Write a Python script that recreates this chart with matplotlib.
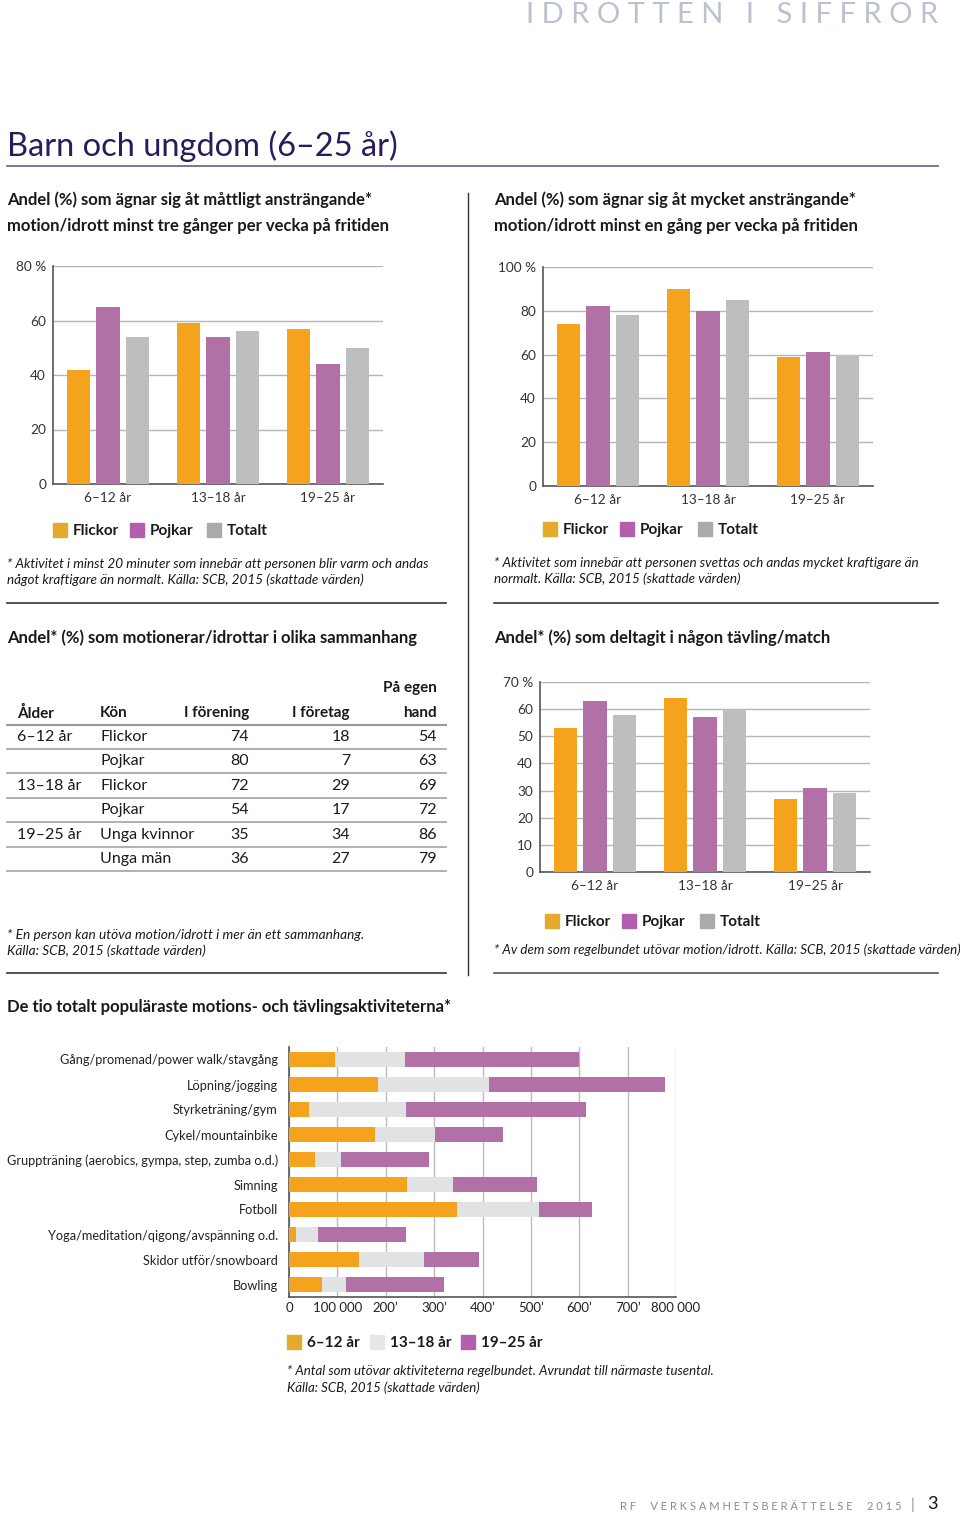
import matplotlib
matplotlib.use('Agg')
import matplotlib.pyplot as plt
import numpy as np
from matplotlib.lines import Line2D
from matplotlib.patches import Rectangle

W, H = 960, 1515
FONT = ['Lato', 'DejaVu Sans']
plt.rcParams['font.family'] = FONT

ORANGE = '#F5A31C'
PURPLE = '#B170A6'
GRAY = '#BDBEC0'
LIGHT = '#E1E2E4'
DARK = '#1A1A1A'
TITLE_COL = '#2B1B5C'

# data
age_groups = ['6–12 år', '13–18 år', '19–25 år']

moderate_flickor = [42, 59, 57]
moderate_pojkar = [65, 54, 44]
moderate_totalt = [54, 56, 50]

vigorous_flickor = [74, 90, 59]
vigorous_pojkar = [82, 80, 61]
vigorous_totalt = [78, 85, 60]

comp_flickor = [53, 64, 27]
comp_pojkar = [63, 57, 31]
comp_totalt = [58, 60, 29]

table_header = ['Ålder', 'Kön', 'I förening', 'I företag', 'hand']
table_age = ['6–12 år', '', '13–18 år', '', '19–25 år', '']
table_sex = ['Flickor', 'Pojkar', 'Flickor', 'Pojkar', 'Unga kvinnor', 'Unga män']
in_forening = [74, 80, 72, 54, 35, 36]
in_foretag = [18, 7, 29, 17, 34, 27]
on_own = [54, 63, 69, 72, 86, 79]

activities = ['Gång/promenad/power walk/stavgång', 'Löpning/jogging', 'Styrketräning/gym',
              'Cykel/mountainbike', 'Gruppträning (aerobics, gympa, step, zumba o.d.)',
              'Simning', 'Fotboll', 'Yoga/meditation/qigong/avspänning o.d.',
              'Skidor utför/snowboard', 'Bowling']
act_6_12 = [95000, 183000, 42000, 178000, 53000, 244000, 347000, 14000, 144000, 69000]
act_13_18 = [144000, 231000, 199000, 124000, 55000, 96000, 170000, 45000, 136000, 49000]
act_19_25 = [361000, 364000, 373000, 140000, 182000, 172000, 109000, 182000, 112000, 202000]
act_ticks = [0, 100000, 200000, 300000, 400000, 500000, 600000, 700000, 800000]
act_tick_labels = ['0', '100 000', '200’', '300’', '400’', '500’', '600’', '700’', '800 000']

fig = plt.figure(figsize=(W / 100, H / 100), dpi=100)


def ax_px(x0, y0, x1, y1):
    return fig.add_axes([x0 / W, 1 - y1 / H, (x1 - x0) / W, (y1 - y0) / H])


def ftext(x, y, s, **kw):
    kw.setdefault('va', 'center')
    kw.setdefault('color', DARK)
    fig.text(x / W, 1 - y / H, s, **kw)


def hline(x0, x1, y, color='#333333', lw=1.2):
    fig.add_artist(Line2D([x0 / W, x1 / W], [1 - y / H] * 2, color=color, lw=lw))


def vline(x, y0, y1, color='#333333', lw=1.2):
    fig.add_artist(Line2D([x / W] * 2, [1 - y0 / H, 1 - y1 / H], color=color, lw=lw))


def square(x, y, color, size=14):
    fig.add_artist(Rectangle((x / W, 1 - (y + size / 2) / H), size / W, size / H,
                             color=color, transform=fig.transFigure))


def legend(x_list, y, labels, colors):
    for x, lab, col in zip(x_list, labels, colors):
        square(x, y, col)
        ftext(x + 20, y + 1, lab, fontsize=11, fontweight='bold')


def group_bars(ax, f, p, t, ymax, step):
    x = np.arange(len(age_groups))
    for k, (vals, col) in enumerate([(f, ORANGE), (p, PURPLE), (t, GRAY)]):
        ax.bar(x + (k - 1) * 0.265, vals, width=0.21, color=col, zorder=3)
    ax.set_xlim(-0.5, 2.5)
    ax.set_ylim(0, ymax)
    ticks = list(range(0, ymax + 1, step))
    labels = [str(v) for v in ticks]
    labels[-1] += ' %'
    ax.set_yticks(ticks, labels)
    ax.set_xticks(x, age_groups)
    ax.yaxis.grid(True, color='#B5B5B5', lw=1)
    ax.set_axisbelow(True)
    for s in ['top', 'right']:
        ax.spines[s].set_visible(False)
    for s in ['left', 'bottom']:
        ax.spines[s].set_color('#555555')
        ax.spines[s].set_linewidth(1.2)
    ax.tick_params(length=0, labelsize=9.8, colors='#333333')
    ax.tick_params(axis='y', pad=5)
    ax.tick_params(axis='x', pad=6)


# header
header = ' '.join('IDROTTEN') + '   I   ' + ' '.join('SIFFROR')
ftext(938, 23, header, fontsize=21, color='#BCC1D0', ha='right', va='baseline')
ftext(7, 146, 'Barn och ungdom (6–25 år)', fontsize=23.5, color=TITLE_COL)
hline(7, 938, 166, color='#6F6A92', lw=1.3)

# separators
vline(468, 193, 975, color='#333333', lw=1.0)

# panel 1
ftext(7, 200, 'Andel (%) som ägnar sig åt måttligt ansträngande*', fontsize=12, fontweight='bold')
ftext(7, 226, 'motion/idrott minst tre gånger per vecka på fritiden', fontsize=12, fontweight='bold')
ax1 = ax_px(53, 266, 383, 484)
group_bars(ax1, moderate_flickor, moderate_pojkar, moderate_totalt, 80, 20)
legend([53, 130, 207], 530, ['Flickor', 'Pojkar', 'Totalt'], ['#E3AA2E', '#B25FAE', '#AAAAAA'])
ftext(7, 564, '* Aktivitet i minst 20 minuter som innebär att personen blir varm och andas',
      fontsize=9.7, style='italic')
ftext(7, 580, 'något kraftigare än normalt. Källa: SCB, 2015 (skattade värden)',
      fontsize=9.7, style='italic')
hline(7, 446, 603)

# panel 2
ftext(494, 200, 'Andel (%) som ägnar sig åt mycket ansträngande*', fontsize=12, fontweight='bold')
ftext(494, 226, 'motion/idrott minst en gång per vecka på fritiden', fontsize=12, fontweight='bold')
ax2 = ax_px(543, 267, 873, 486)
group_bars(ax2, vigorous_flickor, vigorous_pojkar, vigorous_totalt, 100, 20)
legend([543, 620, 698], 529, ['Flickor', 'Pojkar', 'Totalt'], ['#E3AA2E', '#B25FAE', '#AAAAAA'])
ftext(494, 563, '* Aktivitet som innebär att personen svettas och andas mycket kraftigare än',
      fontsize=9.7, style='italic')
ftext(494, 579, 'normalt. Källa: SCB, 2015 (skattade värden)', fontsize=9.7, style='italic')
hline(494, 938, 603)

# panel 3: table
ftext(7, 638, 'Andel* (%) som motionerar/idrottar i olika sammanhang', fontsize=12, fontweight='bold')
ftext(437, 688, 'På egen', fontsize=11, fontweight='bold', ha='right')
col_x = [17, 100, 249, 350, 437]
col_ha = ['left', 'left', 'right', 'right', 'right']
for x, ha, lab in zip(col_x, col_ha, table_header):
    ftext(x, 713, lab, fontsize=11, fontweight='bold', ha=ha)
hline(7, 446, 725, color='#999999', lw=1.5)
row_y0, row_dy = 737, 24.4
for i in range(len(table_sex)):
    y = row_y0 + i * row_dy
    cells = [table_age[i], table_sex[i], str(in_forening[i]), str(in_foretag[i]), str(on_own[i])]
    for x, ha, c in zip(col_x, col_ha, cells):
        ftext(x, y, c, fontsize=11.5, ha=ha)
    hline(7, 446, y + 12, color='#AAAAAA', lw=1.3)
ftext(7, 935, '* En person kan utöva motion/idrott i mer än ett sammanhang.', fontsize=9.8, style='italic')
ftext(7, 951, 'Källa: SCB, 2015 (skattade värden)', fontsize=9.8, style='italic')
hline(7, 446, 973)

# panel 4
ftext(494, 638, 'Andel* (%) som deltagit i någon tävling/match', fontsize=12, fontweight='bold')
ax4 = ax_px(540, 682, 870, 872)
group_bars(ax4, comp_flickor, comp_pojkar, comp_totalt, 70, 10)
legend([545, 622, 700], 921, ['Flickor', 'Pojkar', 'Totalt'], ['#E3AA2E', '#B25FAE', '#AAAAAA'])
ftext(494, 950, '* Av dem som regelbundet utövar motion/idrott. Källa: SCB, 2015 (skattade värden)',
      fontsize=9.6, style='italic')
hline(494, 938, 973, color='#555555')

# panel 5: stacked horizontal bars
ftext(7, 1007, 'De tio totalt populäraste motions- och tävlingsaktiviteterna*', fontsize=12,
      fontweight='bold')
ax5 = ax_px(289, 1047, 676, 1297)
y = np.arange(len(activities))
a = np.array(act_6_12)
b = np.array(act_13_18)
c = np.array(act_19_25)
ax5.barh(y, a, height=0.62, color=ORANGE, zorder=3)
ax5.barh(y, b, left=a, height=0.62, color=LIGHT, zorder=3)
ax5.barh(y, c, left=a + b, height=0.62, color=PURPLE, zorder=3)
ax5.set_ylim(len(activities) - 0.5, -0.5)
ax5.set_xlim(0, 800000)
ax5.set_yticks(y, activities)
ax5.set_xticks(act_ticks, act_tick_labels)
ax5.xaxis.grid(True, color='#BBBBBB', lw=1)
ax5.set_axisbelow(True)
for s in ['top', 'right']:
    ax5.spines[s].set_visible(False)
for s in ['left', 'bottom']:
    ax5.spines[s].set_color('#555555')
    ax5.spines[s].set_linewidth(1.2)
ax5.tick_params(length=0, labelsize=9.5, colors='#222222')
ax5.tick_params(axis='y', pad=8, labelsize=9.2)
legend([287, 370, 461], 1342, ['6–12 år', '13–18 år', '19–25 år'], ['#E3AA2E', '#E6E6E6', '#B25FAE'])
ftext(287, 1371, '* Antal som utövar aktiviteterna regelbundet. Avrundat till närmaste tusental.',
      fontsize=9.5, style='italic')
ftext(287, 1388, 'Källa: SCB, 2015 (skattade värden)', fontsize=9.5, style='italic')

# footer
ftext(902, 1506, ' '.join('RF  VERKSAMHETSBERÄTTELSE  2015'), fontsize=8, color='#8A8A8A',
      ha='right')
ftext(912, 1505, '|', fontsize=11, color='#8A8A8A', ha='center')
ftext(932, 1504, '3', fontsize=13, color='#111111', ha='center')

fig.savefig('out.png', dpi=100)
